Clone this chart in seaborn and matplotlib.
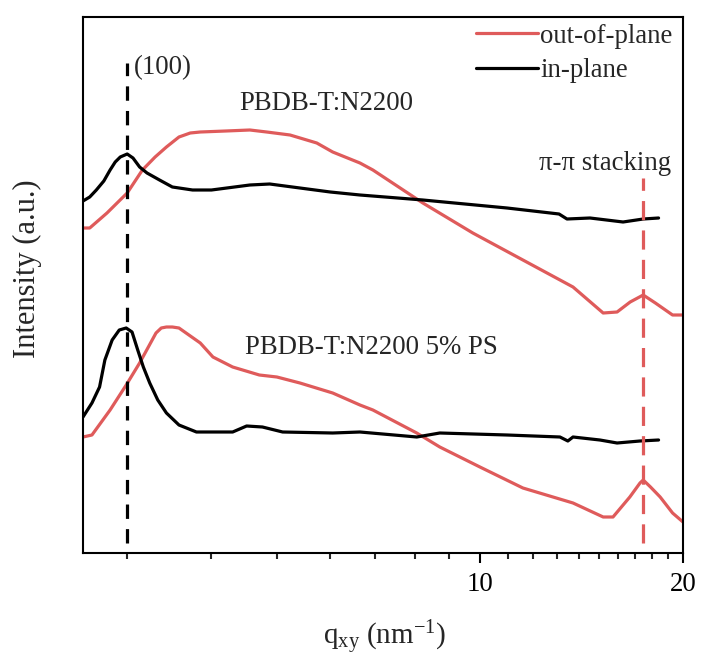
import numpy as np
import pandas as pd
import matplotlib
matplotlib.use("Agg")
import matplotlib.pyplot as plt
import seaborn as sns

# ---------------- data ----------------
# upper sample: PBDB-T:N2200
q_ip_1 = [2.58, 2.64, 2.70, 2.77, 2.83, 2.88, 2.93, 3.00, 3.06, 3.13, 3.21, 3.35,
          3.50, 3.75, 4.00, 4.56, 4.88, 5.41, 6.00, 6.64, 8.23, 10.97, 13.10,
          13.46, 14.56, 16.30, 17.46, 18.40]
I_ip_1 = [352, 356, 363, 372, 383, 391, 396, 399, 395, 386, 380, 373,
          366, 363, 363, 368, 369, 365, 361, 358, 353, 345, 339,
          334, 335, 331, 334, 335]

q_op_1 = [2.58, 2.64, 2.80, 3.00, 3.16, 3.30, 3.43, 3.58, 3.72, 3.85, 4.20, 4.56,
          4.83, 5.23, 5.73, 6.05, 6.64, 6.94, 8.23, 9.76, 11.58, 13.74, 15.23,
          15.97, 16.70, 17.46, 18.20, 19.30, 20.0]
I_op_1 = [325, 325, 340, 360, 383, 396, 406, 416, 420, 421, 422, 423,
          421, 418, 410, 401, 390, 383, 350, 320, 293, 266, 240,
          241, 251, 258, 250, 238, 238]

# lower sample: PBDB-T:N2200 5% PS
q_ip_2 = [2.58, 2.66, 2.73, 2.78, 2.85, 2.92, 2.99, 3.05, 3.11, 3.17, 3.24, 3.33,
          3.43, 3.58, 3.80, 4.30, 4.51, 4.76, 5.10, 6.05, 6.64, 8.06, 8.72,
          10.97, 13.14, 13.50, 13.74, 15.06, 15.97, 17.27, 18.40]
I_ip_2 = [136, 150, 166, 193, 213, 223, 225, 221, 203, 186, 170, 153,
          140, 128, 121, 121, 127, 126, 121, 120, 121, 116, 120,
          118, 116, 112, 116, 113, 110, 112, 113]

q_op_2 = [2.58, 2.66, 2.83, 2.99, 3.13, 3.31, 3.37, 3.43, 3.50, 3.58, 3.85, 4.02,
          4.30, 4.71, 5.00, 5.41, 6.05, 6.64, 6.94, 8.06, 8.72, 10.0, 11.58,
          13.74, 15.23, 15.75, 16.68, 17.27, 17.46, 17.90, 18.50, 19.30, 20.0]
I_op_2 = [116, 118, 143, 168, 190, 220, 225, 226, 226, 225, 210, 196,
          186, 178, 176, 170, 160, 148, 143, 120, 106, 86, 65,
          50, 36, 36, 56, 70, 73, 66, 56, 40, 31]

peak_100 = 3.0
peak_pipi = 17.46
major_ticks = [10, 20]
major_labels = ["10", "20"]
minor_ticks = [3, 4, 5, 6, 7, 8, 9, 11, 12, 13, 14, 15, 16, 17, 18, 19]

RED = "#df5b5b"
FS = 19.3

# ---------------- style ----------------
sns.set_theme(style="ticks")
plt.rcParams["font.family"] = ["Liberation Serif", "DejaVu Serif"]
plt.rcParams["mathtext.fontset"] = "custom"
plt.rcParams["mathtext.rm"] = "Liberation Serif"
plt.rcParams["mathtext.it"] = "Liberation Serif:italic"

fig = plt.figure(figsize=(7.02, 6.62), dpi=100)
ax = fig.add_axes([83 / 702, 1 - 553 / 662, 600 / 702, 536 / 662])

lw = 2.3
sns.lineplot(x=q_op_1, y=I_op_1, ax=ax, color=RED, lw=lw, label="out-of-plane", sort=False)
sns.lineplot(x=q_ip_1, y=I_ip_1, ax=ax, color="black", lw=lw, label="in-plane", sort=False)
sns.lineplot(x=q_op_2, y=I_op_2, ax=ax, color=RED, lw=lw, sort=False)
sns.lineplot(x=q_ip_2, y=I_ip_2, ax=ax, color="black", lw=lw, sort=False)

ax.vlines(peak_100, 10, 490, colors="black", lw=2.3, linestyles=(0, (4.5, 3.2)))
ax.vlines(peak_pipi, 10, 375, colors=RED, lw=2.3, linestyles=(0, (6, 3.2)))

ax.set_xscale("log")
ax.set_xlim(2.58, 20)
ax.set_ylim(0, 536)
ax.set_xticks(major_ticks)
ax.set_xticklabels(major_labels)
ax.set_xticks(minor_ticks, minor=True)
ax.xaxis.set_minor_formatter(matplotlib.ticker.NullFormatter())
ax.set_yticks([])
ax.tick_params(axis="x", which="major", direction="out", length=7, width=1.5,
               labelsize=FS, pad=7, colors="black")
ax.tick_params(axis="x", which="minor", direction="out", length=4.2, width=1.5)
for s in ax.spines.values():
    s.set_linewidth(1.5)
    s.set_color("black")

ax.set_xlabel(r"q$_{\mathrm{xy}}$ (nm$^{\mathrm{-1}}$)", fontsize=21)
ax.xaxis.set_label_coords(0.502, -0.122)
ax.set_ylabel("Intensity (a.u.)", fontsize=22)
ax.yaxis.set_label_coords(-0.068, 0.53)

ax.text(3.07, 485, "(100)", fontsize=FS, ha="left", va="center")
ax.text(4.40, 450, "PBDB-T:N2200", fontsize=FS, ha="left", va="center")
ax.text(4.48, 206, "PBDB-T:N2200 5% PS", fontsize=FS, ha="left", va="center")
ax.text(12.23, 390, "π-π stacking", fontsize=FS, ha="left", va="center")

ax.legend(loc="upper right", bbox_to_anchor=(0.994, 1.0), frameon=False, fontsize=FS,
          handlelength=2.3, handletextpad=0.1, labelspacing=0.35,
          borderaxespad=0.1, borderpad=0.15)

fig.savefig("out.png", dpi=100)
